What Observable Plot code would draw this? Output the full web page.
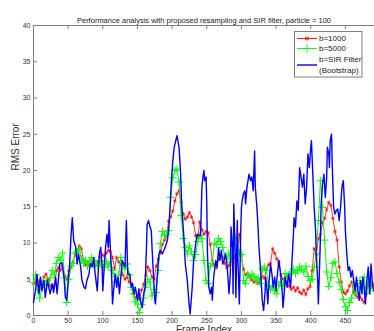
<!DOCTYPE html>
<html>
<head>
<meta charset="utf-8">
<script src="https://cdn.jsdelivr.net/npm/d3@7"></script>
<script src="https://cdn.jsdelivr.net/npm/@observablehq/plot@0.6"></script>
<style>
  body { margin: 0; background: #fff; }
  #chart { width: 374px; height: 331px; overflow: hidden; }
</style>
</head>
<body>
<div id="chart"></div>
<script>
const title = "Performance analysis with proposed resampling and SIR filter, particle = 100";
const xLabel = "Frame Index";
const yLabel = "RMS Error";
const seriesNames = ["b=1000", "b=5000", "b=SIR Filter", "(Bootstrap)"];
const xTicks = [0, 50, 100, 150, 200, 250, 300, 350, 400, 450];
const yTicks = [0, 5, 10, 15, 20, 25, 30, 35, 40];

// RMS error of the proposed resampling, b=1000, sampled every 3rd frame
const b1000Rms = [
  4.3, 4.6, 4.2, 4.8, 4.4, 5.3, 5.7, 5.0, 4.1, 3.8,
  4.2, 6.2, 6.6, 6.3, 6.8, 5.5, 5.0, 6.2, 6.6, 7.4,
  8.3, 8.8, 9.6, 9.2, 7.6, 7.0, 7.3, 6.8, 7.2, 7.5,
  6.9, 7.4, 8.0, 8.4, 8.2, 8.6, 9.0, 8.8, 8.0, 6.5,
  8.0, 7.4, 7.0, 5.6, 5.0, 5.3, 4.6, 4.4, 3.0, 2.4,
  2.6, 2.3, 3.5, 4.3, 5.5, 6.7, 6.2, 5.3, 5.0, 6.8,
  7.8, 8.6, 9.8, 10.4, 11.0, 13.0, 13.6, 14.4, 15.8, 16.8,
  17.2, 15.6, 14.0, 13.3, 13.6, 14.2, 13.6, 12.8, 11.0, 10.8,
  12.9, 11.8, 11.2, 11.6, 11.4, 9.8, 7.6, 7.0, 6.6, 7.8,
  8.2, 8.0, 7.2, 6.6, 6.9, 7.8, 8.2, 7.9, 9.0, 11.2,
  8.2, 6.4, 5.6, 5.8, 5.4, 4.9, 4.6, 4.9, 4.4, 5.0,
  5.4, 5.1, 6.4, 7.0, 7.2, 9.2, 8.6, 7.8, 7.4, 5.6,
  5.0, 4.4, 4.6, 4.0, 3.6, 3.9, 3.4, 3.8, 3.2, 3.0,
  3.5, 2.9, 3.7, 4.0, 6.2, 9.2, 8.4, 10.6, 11.2, 12.8,
  13.4, 14.6, 15.6, 15.2, 13.4, 11.6, 10.4, 6.7, 4.6, 3.2,
  3.0, 3.4, 4.1, 4.6, 3.2, 2.8, 2.5, 2.6, 2.2, 1.8,
  3.0, 4.2, 3.9, 4.4, 4.2
];

// RMS error of the proposed resampling, b=5000, sampled every 3rd frame
const b5000Rms = [
  4.5, 5.6, 3.6, 2.4, 3.8, 4.8, 4.6, 4.2, 5.2, 6.2,
  5.6, 7.2, 8.0, 7.6, 8.6, 5.2, 1.8, 5.0, 6.8, 7.2,
  8.6, 8.8, 9.2, 7.8, 7.2, 7.6, 6.8, 7.4, 8.0, 7.0,
  7.2, 6.8, 7.6, 7.0, 6.6, 7.4, 6.8, 7.4, 6.2, 5.4,
  4.6, 5.6, 8.0, 6.9, 6.4, 7.1, 5.6, 3.9, 3.0, 1.9,
  1.6, 0.4, 1.5, 2.4, 3.9, 5.0, 4.6, 2.7, 3.6, 3.2,
  6.2, 9.9, 11.6, 11.0, 11.2, 11.7, 16.3, 19.0, 20.0, 20.2,
  18.4, 13.8, 10.6, 9.4, 8.5, 9.6, 8.8, 7.6, 8.4, 10.2,
  11.0, 10.6, 7.6, 4.8, 4.4, 6.8, 7.2, 10.0, 9.8, 10.6,
  10.2, 9.4, 8.2, 7.8, 8.6, 7.4, 9.6, 10.8, 10.6, 8.6,
  8.4, 4.8, 4.4, 5.6, 5.2, 5.7, 5.4, 4.8, 5.2, 4.4,
  6.4, 6.7, 6.2, 4.2, 3.6, 4.0, 3.4, 3.0, 4.2, 4.6,
  4.0, 5.8, 5.2, 5.6, 6.0, 6.4, 5.8, 6.2, 6.7, 6.4,
  6.0, 6.8, 5.4, 4.8, 5.0, 6.7, 8.5, 13.1, 18.6, 14.9,
  10.4, 6.0, 4.0, 5.2, 7.2, 7.4, 5.8, 4.6, 3.6, 2.2,
  1.2, 0.7, 1.8, 2.4, 4.4, 3.0, 4.0, 4.8, 3.8, 5.3,
  3.1, 4.6, 3.4, 4.2, 3.9
];

// SIR filter (bootstrap): frame index and RMS error at each turning point
const sirFrames = [
  0, 3, 5, 8, 10, 12, 15, 17, 20, 22, 24, 27, 29, 32, 34, 36, 38, 41, 44, 46,
  48, 50, 52, 54, 56, 58, 61, 63, 65, 68, 70, 73, 75, 77, 80, 82, 85, 87, 89, 92,
  93, 95, 97, 99, 100, 102, 104, 106, 108, 109, 111, 113, 114, 116, 118, 120, 122, 124, 126, 128,
  132, 134, 136, 139, 141, 143, 145, 147, 150, 152, 154, 157, 159, 161, 163, 164, 166, 168, 170, 171,
  173, 175, 176, 178, 181, 183, 186, 188, 190, 193, 195, 197, 199, 201, 203, 207, 210, 212, 214, 217,
  219, 222, 224, 226, 229, 231, 234, 236, 241, 243, 245, 246, 247, 249, 250, 251, 252, 253, 255, 257,
  258, 260, 263, 265, 267, 269, 271, 273, 275, 277, 279, 281, 282, 284, 285, 287, 288, 289, 291, 292,
  294, 295, 297, 299, 300, 301, 303, 305, 306, 308, 311, 312, 313, 315, 317, 319, 320, 322, 324, 325,
  327, 329, 330, 332, 334, 335, 337, 338, 340, 342, 344, 346, 348, 350, 351, 354, 356, 359, 360, 362,
  363, 366, 368, 371, 373, 375, 376, 378, 380, 382, 384, 386, 388, 390, 392, 394, 396, 398, 400, 401,
  403, 405, 407, 408, 410, 411, 413, 414, 415, 417, 419, 421, 423, 424, 426, 427, 428, 430, 431, 433,
  435, 437, 439, 441, 443, 445, 447, 449, 450, 452, 454, 456, 458, 460, 462, 464, 466, 468, 470, 472,
  474, 475, 477, 479, 481, 483, 485, 487, 489, 491
];
const sirRms = [
  1.8, 3.5, 5.7, 3.0, 5.3, 3.4, 4.8, 2.5, 4.8, 3.9, 3.0, 4.4, 3.2, 5.3, 3.0, 5.0, 7.1, 7.3, 5.3, 2.5,
  2.1, 4.8, 6.7, 10.8, 13.5, 10.3, 9.4, 7.1, 8.5, 6.7, 4.8, 3.9, 3.7, 4.8, 5.7, 7.1, 6.7, 8.0, 5.7, 3.4,
  5.3, 8.5, 9.4, 6.7, 3.4, 6.7, 9.4, 11.2, 9.4, 13.1, 9.0, 4.8, 1.6, 3.9, 5.7, 3.9, 5.3, 3.0, 5.3, 7.6,
  6.7, 13.1, 5.7, 5.7, 3.9, 4.4, 3.0, 3.9, 2.1, 3.7, 2.1, 1.1, 3.0, 3.9, 9.4, 12.6, 13.1, 12.2, 11.7, 9.4,
  5.7, 2.1, 1.6, 4.8, 8.5, 9.0, 8.5, 9.0, 9.4, 10.3, 11.7, 14.9, 18.6, 21.3, 23.2, 24.8, 23.2, 20.0, 14.9, 10.8,
  7.1, 4.8, 2.1, 0.2, 3.9, 7.6, 9.9, 11.2, 11.0, 17.7, 19.5, 20.0, 18.6, 19.1, 15.4, 8.5, 6.2, 3.9, 3.0, 3.9,
  2.1, 5.3, 7.6, 6.7, 9.4, 7.6, 9.0, 7.1, 7.6, 8.5, 7.1, 4.8, 3.0, 5.7, 12.2, 9.4, 3.0, 15.4, 8.5, 2.5,
  13.1, 7.6, 1.6, 11.7, 14.9, 15.8, 16.8, 17.2, 15.4, 17.7, 19.5, 19.1, 18.6, 19.1, 17.2, 22.7, 17.7, 15.4, 12.2, 9.9,
  7.1, 3.9, 2.1, 0.7, 3.0, 5.3, 3.4, 1.6, 4.8, 7.1, 5.7, 3.9, 5.3, 3.4, 4.8, 7.6, 6.2, 3.0, 1.1, 3.4,
  5.3, 3.9, 5.7, 3.9, 7.6, 11.2, 13.5, 12.2, 15.8, 14.5, 20.4, 19.1, 17.7, 19.5, 15.4, 17.7, 22.3, 20.4, 23.2, 24.1,
  19.5, 14.9, 11.7, 8.5, 4.8, 1.6, 7.6, 10.8, 15.4, 18.1, 19.5, 16.3, 19.1, 23.2, 22.3, 20.4, 24.1, 25.0, 20.9, 14.9,
  14.0, 14.5, 14.7, 13.1, 14.9, 17.7, 18.6, 14.9, 11.7, 8.5, 6.2, 6.7, 5.3, 6.2, 4.8, 3.4, 5.3, 3.4, 2.1, 4.8,
  3.0, 5.3, 3.9, 1.6, 4.8, 6.7, 3.0, 7.1, 4.4, 3.4
];

const colors = ["#ff0000", "#00ff00", "#0000ff"];
const axisColor = "#7f7f7f";
const font = "'Liberation Sans', Arial, Helvetica, sans-serif";

const b1000 = b1000Rms.map((v, i) => ({frame: i * 3, rms: v}));
const b5000 = b5000Rms.map((v, i) => ({frame: i * 3, rms: v}));
const sir = sirFrames.map((f, i) => ({frame: f, rms: sirRms[i]}));

const chart = Plot.plot({
  width: 374,
  height: 331,
  marginLeft: 33,
  marginRight: 0,
  marginTop: 25,
  marginBottom: 16,
  style: {background: "#fff", fontFamily: font, color: "#222"},
  x: {domain: [0, 492]},
  y: {domain: [0, 40]},
  marks: [
    // box edges
    Plot.ruleY([0, 40], {stroke: axisColor}),
    Plot.ruleX([0], {stroke: axisColor}),
    // inward tick marks on bottom, top and left
    Plot.ruleX(xTicks, {x: d => d, y1: 0, y2: 0, insetTop: -4, stroke: axisColor}),
    Plot.ruleX(xTicks, {x: d => d, y1: 40, y2: 40, insetBottom: -4, stroke: axisColor}),
    Plot.ruleY(yTicks, {y: d => d, x1: 0, x2: 0, insetRight: -4, stroke: axisColor}),
    Plot.axisX({ticks: xTicks, tickSize: 0, tickPadding: 3, label: null, fontSize: 7, fill: "#333"}),
    Plot.axisY({ticks: yTicks, tickSize: 0, tickPadding: 3, label: null, fontSize: 7, fill: "#333"}),
    // series
    Plot.line(b1000, {x: "frame", y: "rms", stroke: colors[0], strokeWidth: 0.8}),
    Plot.dot(b1000, {x: "frame", y: "rms", symbol: "asterisk", r: 1.8, stroke: colors[0], strokeWidth: 0.7}),
    Plot.line(b5000, {x: "frame", y: "rms", stroke: colors[1], strokeWidth: 1}),
    Plot.dot(b5000, {x: "frame", y: "rms", symbol: "plus", r: 2.6, stroke: colors[1], strokeWidth: 1}),
    Plot.line(sir, {x: "frame", y: "rms", stroke: colors[2], strokeWidth: 1.4}),
    // titles
    Plot.text([title], {frameAnchor: "top", dy: -8, fontSize: 7.5, fill: "#222"}),
    Plot.text([xLabel], {frameAnchor: "bottom", dy: 17, fontSize: 10, fill: "#333"}),
    Plot.text([yLabel], {frameAnchor: "left", dx: -18, rotate: -90, fontSize: 10, fill: "#333"})
  ]
});

// legend box in the upper right corner
const svg = d3.select(chart);
const lg = svg.append("g")
  .attr("font-family", font).attr("font-size", 8).attr("fill", "#222")
  .attr("text-anchor", "start");
lg.append("rect").attr("x", 294.5).attr("y", 31.5).attr("width", 67.5).attr("height", 45.5)
  .attr("fill", "#fff").attr("stroke", axisColor);
const rows = [
  {y: 38.5, color: colors[0], symbol: d3.symbolAsterisk, size: 14, texts: [[seriesNames[0], 38.5]]},
  {y: 48.5, color: colors[1], symbol: d3.symbolPlus, size: 28, texts: [[seriesNames[1], 48.5]]},
  {y: 65, color: colors[2], symbol: null, texts: [[seriesNames[2], 59.5], [seriesNames[3], 70.5]]}
];
for (const r of rows) {
  lg.append("line").attr("x1", 297).attr("x2", 317).attr("y1", r.y).attr("y2", r.y)
    .attr("stroke", r.color).attr("stroke-width", r.symbol ? 0.9 : 1.4);
  if (r.symbol) {
    lg.append("path").attr("d", d3.symbol(r.symbol, r.size)())
      .attr("transform", `translate(307,${r.y})`)
      .attr("fill", "none").attr("stroke", r.color).attr("stroke-width", 0.8);
  }
  for (const [t, ty] of r.texts) {
    lg.append("text").attr("x", 319).attr("y", ty).attr("dy", "0.35em").text(t);
  }
}

document.getElementById("chart").appendChild(chart);
</script>
</body>
</html>
